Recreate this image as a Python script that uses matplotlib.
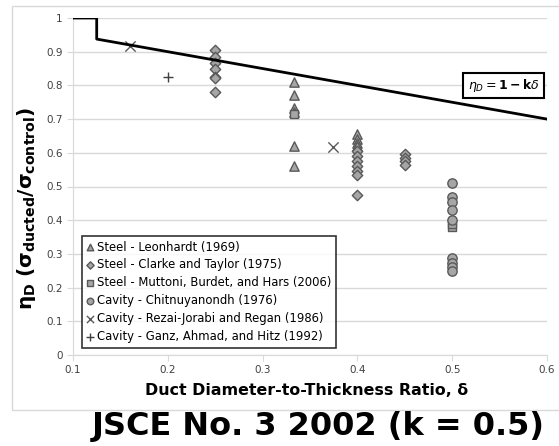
import numpy as np
import matplotlib.pyplot as plt

# data
leon_x = [1/3, 1/3, 1/3, 1/3, 1/3, 1/3, 0.4, 0.4, 0.4, 0.4]
leon_y = [0.81, 0.772, 0.732, 0.722, 0.619, 0.56, 0.655, 0.642, 0.63, 0.62]
clarke_x = [0.25] * 7 + [0.4] * 7 + [0.45] * 4
clarke_y = [0.905, 0.885, 0.866, 0.849, 0.826, 0.821, 0.781,
            0.605, 0.59, 0.575, 0.56, 0.545, 0.535, 0.475,
            0.597, 0.586, 0.575, 0.563]
mutt_x = [1/3, 0.5, 0.5]
mutt_y = [0.715, 0.38, 0.39]
chit_x = [0.5] * 9
chit_y = [0.511, 0.47, 0.455, 0.43, 0.40, 0.288, 0.273, 0.26, 0.25]
rezai_x = [0.16, 0.374]
rezai_y = [0.918, 0.618]
ganz_x = [0.2]
ganz_y = [0.826]

k = 0.5
design_x = [0.1, 0.125, 0.125, 0.6]

plt.rcParams['font.family'] = ['DejaVu Sans']

fig = plt.figure(figsize=(5.59, 4.46), dpi=100)
# outer chart frame
fig.patches.append(plt.Rectangle((12/559, 1-410/446), 560/559, 404/446,
                                 transform=fig.transFigure, fill=False,
                                 edgecolor='#d9d9d9', linewidth=1))
ax = fig.add_axes([73/559, 1-355/446, 474/559, 337/446])

fc, ec = '#a6a6a6', '#595959'
ax.scatter(leon_x, leon_y, marker='^', s=45, facecolor=fc, edgecolor=ec, linewidth=1, zorder=3,
           label='Steel - Leonhardt (1969)')
ax.scatter(clarke_x, clarke_y, marker='D', s=28, facecolor=fc, edgecolor=ec, linewidth=1, zorder=3,
           label='Steel - Clarke and Taylor (1975)')
ax.scatter(mutt_x, mutt_y, marker='s', s=40, facecolor=fc, edgecolor=ec, linewidth=1, zorder=3,
           label='Steel - Muttoni, Burdet, and Hars (2006)')
ax.scatter(chit_x, chit_y, marker='o', s=45, facecolor=fc, edgecolor=ec, linewidth=1, zorder=3,
           label='Cavity - Chitnuyanondh (1976)')
ax.scatter(rezai_x, rezai_y, marker='x', s=55, color='#595959', linewidth=1, zorder=3,
           label='Cavity - Rezai-Jorabi and Regan (1986)')
ax.scatter(ganz_x, ganz_y, marker='+', s=55, color='#404040', linewidth=1, zorder=3,
           label='Cavity - Ganz, Ahmad, and Hitz (1992)')

design_y = [1.0, 1.0, 1 - k * 0.125, 1 - k * 0.6]
ax.plot(design_x, design_y, color='black', linewidth=2, zorder=4)

ax.set_xlim(0.1, 0.6)
ax.set_ylim(0, 1)
ax.set_xticks(np.arange(0.1, 0.61, 0.1))
ax.set_xticklabels(['0.1', '0.2', '0.3', '0.4', '0.5', '0.6'])
ax.set_yticks(np.arange(0, 1.01, 0.1))
ax.set_yticklabels(['0', '0.1', '0.2', '0.3', '0.4', '0.5', '0.6', '0.7', '0.8', '0.9', '1'])
ax.tick_params(labelsize=7.5, length=4, color='#d9d9d9', labelcolor='#404040')
ax.grid(axis='y', color='#d9d9d9', linewidth=1)
ax.set_axisbelow(True)
for s in ['top', 'right']:
    ax.spines[s].set_visible(False)
for s in ['left', 'bottom']:
    ax.spines[s].set_color('#d9d9d9')

ax.set_xlabel('Duct Diameter-to-Thickness Ratio, δ', fontsize=11.4, fontweight='bold')
ax.xaxis.set_label_coords(0.4926, -0.083)
ax.set_ylabel(r'$\mathbf{\eta_D\ (\sigma_{ducted}/\sigma_{control})}$', fontsize=14.5)
ax.yaxis.set_label_coords(-0.074, 0.436)

leg = ax.legend(loc='lower left', bbox_to_anchor=(0.006, 0.005), fontsize=8.35, frameon=True,
                fancybox=False, edgecolor='black', handlelength=0.6, handletextpad=0.3,
                borderpad=0.4, labelspacing=0.42, markerscale=0.7)
leg.get_frame().set_linewidth(1.2)

ax.text(0.592, 0.8, r'$\eta_D = \mathbf{1 - k}\delta$', fontsize=9, family='DejaVu Serif',
        ha='right', va='center',
        bbox=dict(boxstyle='square,pad=0.35', facecolor='white', edgecolor='black', linewidth=1.5))

fig.text(318/559, 1 - 426/446, 'JSCE No. 3 2002 (k = 0.5)', fontsize=23, fontweight='bold',
         ha='center', va='center')

fig.savefig('out.png', dpi=100)
